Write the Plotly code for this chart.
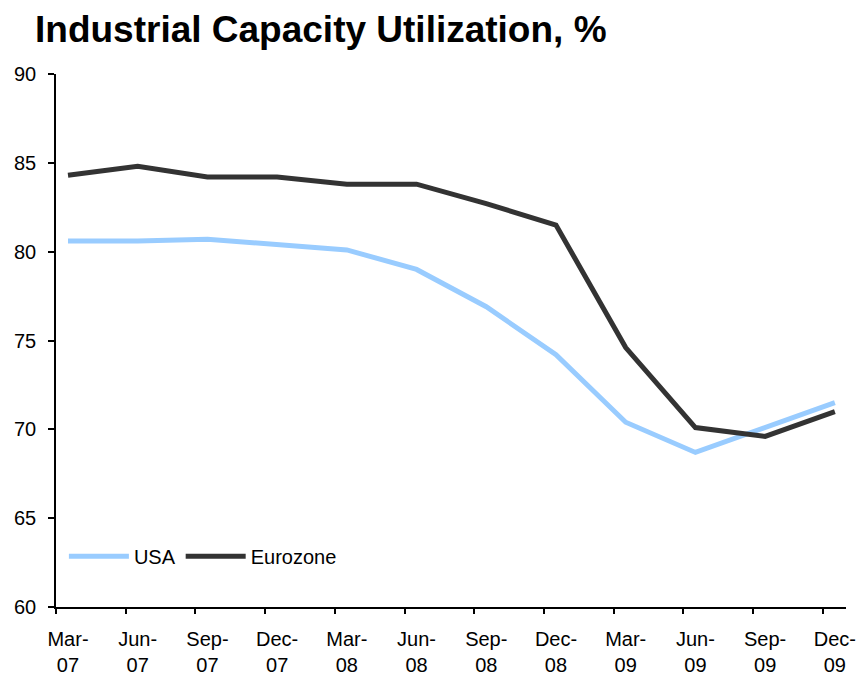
import plotly.graph_objects as go

# Quarterly capacity utilization readings, %
quarters = ["Mar-<br>07", "Jun-<br>07", "Sep-<br>07", "Dec-<br>07",
            "Mar-<br>08", "Jun-<br>08", "Sep-<br>08", "Dec-<br>08",
            "Mar-<br>09", "Jun-<br>09", "Sep-<br>09", "Dec-<br>09"]
usa = [80.6, 80.6, 80.7, 80.4, 80.1, 79.0, 76.9, 74.2, 70.4, 68.7, 70.1, 71.5]
eurozone = [84.3, 84.8, 84.2, 84.2, 83.8, 83.8, 82.7, 81.5, 74.6, 70.1, 69.6, 71.0]

idx = list(range(len(quarters)))
tick_shift = 0.172  # Excel-style ticks sit a bit left of each point

fig = go.Figure()

fig.add_trace(go.Scatter(
    x=idx, y=usa, name="USA", mode="lines",
    line=dict(color="#99CCFF", width=5)
))
fig.add_trace(go.Scatter(
    x=idx, y=eurozone, name="Eurozone", mode="lines",
    line=dict(color="#333333", width=5)
))

x_range = [-tick_shift, 11.16]
font_family = "Liberation Sans, Arial, sans-serif"

fig.update_layout(
    width=860, height=679,
    margin=dict(l=56, r=14, t=74, b=72),
    paper_bgcolor="white",
    plot_bgcolor="white",
    font=dict(family=font_family, size=20, color="black"),
    title=dict(
        text="<b>Industrial Capacity Utilization, %</b>",
        font=dict(size=37, color="black"),
        x=35 / 860, xanchor="left", xref="container",
        y=1 - 29 / 679, yanchor="middle", yref="container",
        automargin=False
    ),
    showlegend=True,
    legend=dict(
        orientation="h",
        x=0.01, y=0.095, xanchor="left", yanchor="middle",
        bgcolor="rgba(0,0,0,0)",
        font=dict(size=20),
        itemwidth=60
    ),
    xaxis=dict(
        range=x_range, automargin=False,
        tickmode="array", tickvals=idx, ticktext=quarters,
        ticks="", showline=True, linecolor="black", linewidth=1.5,
        showgrid=False, zeroline=False,
        ticklabelstandoff=13
    ),
    xaxis2=dict(
        range=x_range, overlaying="x", anchor="y", side="bottom",
        automargin=False,
        tickmode="array", tickvals=[i - tick_shift for i in idx],
        ticks="outside", ticklen=6, tickwidth=1.5, tickcolor="black",
        showticklabels=False, showline=False, showgrid=False, zeroline=False
    ),
    yaxis=dict(
        range=[60, 90], tickvals=[60, 65, 70, 75, 80, 85, 90],
        automargin=False,
        ticks="outside", ticklen=6, tickwidth=1.5, tickcolor="black",
        showline=True, linecolor="black", linewidth=1.5,
        showgrid=False, zeroline=False,
        ticklabelstandoff=8
    )
)

# invisible trace so the tick-only axis gets drawn
fig.add_trace(go.Scatter(x=[None], y=[None], xaxis="x2", showlegend=False,
                         hoverinfo="skip"))

# drop the default page margin so the figure sits at the window's corner
fig.write_html("out.html", config={"displayModeBar": False},
               post_script="document.body.style.margin='0';")
